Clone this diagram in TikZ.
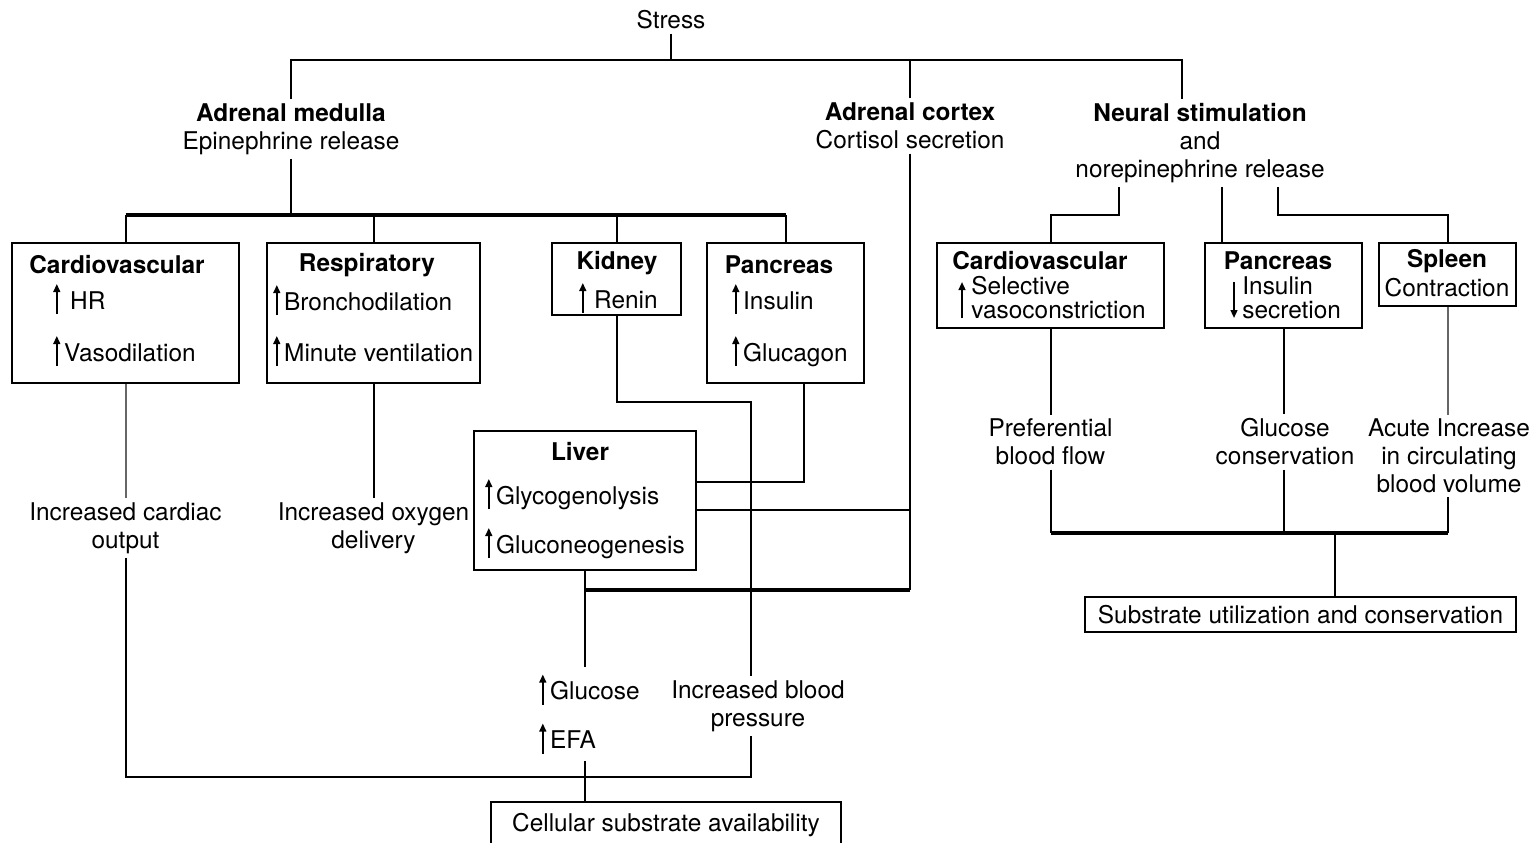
\documentclass[tikz,border=0pt]{standalone}
\usepackage{fontspec}
\setmainfont{TeX Gyre Heros}
\usetikzlibrary{arrows.meta}
\newcommand{\upar}{\tikz[baseline=0pt]\draw[line width=0.9pt,-{Triangle[length=4pt,width=3.4pt]}](0,-2.5pt)--(0,12.5pt);\hspace{2pt}}
\begin{document}
\begin{tikzpicture}[x=0.5pt,y=-0.5pt,
  every node/.style={font=\fontsize{12.2}{14}\selectfont},
  txt/.style={inner sep=2pt, align=center},
  ttl/.style={inner sep=0pt, font=\fontsize{12.2}{14}\selectfont\bfseries},
  item/.style={inner sep=0pt, anchor=west},
  box/.style={draw, line width=1pt, inner sep=0pt},
  conn/.style={line width=1pt},
  lconn/.style={line width=1pt, draw=black!60},
  bus/.style={line width=1.6pt},
  glyph/.style={line width=0.9pt,-{Triangle[length=4pt,width=3.4pt]}}
]
\useasboundingbox (0,0) rectangle (1534,842);

% top
\node[txt] (stress) at (671,20) {Stress};
\node[txt] (am) at (291,129) {\textbf{Adrenal medulla}\\Epinephrine release};
\node[txt] (ac) at (910,126) {\textbf{Adrenal cortex}\\Cortisol secretion};
\node[txt] (ns) at (1200,143) {\textbf{Neural stimulation}\\and\\norepinephrine release};

% boxes left
\node[box, minimum width=113.5pt, minimum height=70pt] (cv) at (125.5,313) {};
\node[box, minimum width=106.5pt, minimum height=70pt] (resp) at (373.5,313) {};
\node[box, minimum width=64.5pt, minimum height=36pt] (kid) at (616.5,279) {};
\node[box, minimum width=78.5pt, minimum height=70pt] (pan) at (785.5,313) {};
\node[box, minimum width=111pt, minimum height=69.5pt] (liver) at (585,500.5) {};
\node[box, minimum width=175pt, minimum height=33pt] (cell) at (666,835) {};

\node[ttl] (cvT) at (117,265) {Cardiovascular};
\node[item] (cvA) at (53,299) {\upar\hspace{3pt}HR};
\node[item] (cvB) at (53,351) {\upar Vasodilation};
\node[ttl] (respT) at (367,265) {Respiratory};
\node[item] (respA) at (273,300) {\upar Bronchodilation};
\node[item] (respB) at (273,351) {\upar Minute ventilation};
\node[ttl] (kidT) at (617,263) {Kidney};
\node[item] (kidA) at (579,298) {\upar\hspace{2pt}Renin};
\node[ttl] (panT) at (779,265) {Pancreas};
\node[item] (panA) at (732,299) {\upar Insulin};
\node[item] (panB) at (732,351) {\upar Glucagon};
\node[ttl] (livT) at (580,452) {Liver};
\node[item] (livA) at (485,494) {\upar Glycogenolysis};
\node[item] (livB) at (485,543) {\upar Gluconeogenesis};
\node[inner sep=0pt] (cellT) at (666,825) {Cellular substrate availability};

% outcomes left
\node[txt] (co) at (125.5,528) {Increased cardiac\\output};
\node[txt] (ox) at (373.5,528) {Increased oxygen\\delivery};
\node[item, inner sep=3pt, align=left, font=\fontsize{12.2}{24.5}\selectfont] (ge) at (533,714) {\upar Glucose\\\upar EFA};
\node[txt] (bp) at (758,706) {Increased blood\\pressure};

% boxes right
\node[box, minimum width=113.5pt, minimum height=42.5pt] (cv2) at (1050.5,285.5) {};
\node[box, minimum width=78.5pt, minimum height=42.5pt] (pan2) at (1283.5,285.5) {};
\node[box, minimum width=68.5pt, minimum height=31.5pt] (spl) at (1447.5,274.5) {};
\node[box, minimum width=215.5pt, minimum height=17.5pt] (sub) at (1300.5,614.5) {Substrate utilization and conservation};

\node[ttl] (cv2T) at (1040,261) {Cardiovascular};
\node[item, align=left, font=\fontsize{12.2}{12}\selectfont] (cv2A) at (971,298) {Selective\\vasoconstriction};
\draw[glyph] (962,318) -- (962,282);
\node[ttl] (pan2T) at (1278,261) {Pancreas};
\node[item, align=left, font=\fontsize{12.2}{12}\selectfont] (pan2A) at (1242,298) {Insulin\\secretion};
\draw[glyph] (1234,282) -- (1234,318);
\node[ttl] (splT) at (1447,261) {Spleen};
\node[inner sep=0pt] (splA) at (1447,288) {Contraction};

\node[txt] (pf) at (1050.5,442) {Preferential\\blood flow};
\node[txt] (gc) at (1285,442) {Glucose\\conservation};
\node[txt] (aci) at (1449,456) {Acute Increase\\in circulating\\blood volume};

% connectors top
\coordinate (sb) at (671,60);
\coordinate (nsd) at (1182,60);
\draw[conn] (stress.south) -- (sb);
\draw[conn] (am.north) -- (am.north |- sb) -- (nsd) -- (nsd |- ns.north);
\draw[conn] (ac.north) -- (ac.north |- sb);

% adrenal medulla branch
\coordinate (ab) at (291,215);
\draw[conn] (am.south) -- (ab);
\draw[bus] (cv.north |- ab) -- (pan.north |- ab);
\foreach \n in {cv,resp,kid,pan} \draw[conn] (\n.north) -- (\n.north |- ab);

% adrenal cortex and liver
\coordinate (cj) at (910,590);
\coordinate (cm) at (910,510);
\coordinate (pl) at (804,482);
\coordinate (kb) at (751,402);
\coordinate (cb) at (585,777);
\draw[conn] (ac.south) -- (cj);
\draw[bus] (cj) -- (cj -| liver.south);
\draw[conn] (cm -| liver.east) -- (cm);
\draw[conn] (pl |- pan.south) -- (pl) -- (pl -| liver.east);
\draw[conn] (kid.south) -- (kid.south |- kb) -- (kb) -- (kb |- bp.north);
\draw[conn] (liver.south) -- (liver.south |- ge.north);
\draw[conn] (liver.south |- ge.south) -- (liver.south |- cell.north);

% outcomes left
\draw[lconn] (cv.south) -- (cv.south |- co.north);
\draw[conn] (resp.south) -- (resp.south |- ox.north);
\draw[conn] (co.south) -- (co.south |- cb) -- (kb |- cb) -- (kb |- bp.south);

% neural stimulation
\coordinate (n1) at (1119,215);
\coordinate (n2) at (1222,215);
\coordinate (n3) at (1278,215);
\draw[conn] (n1 |- ns.south) -- (n1) -| (cv2.north);
\draw[conn] (n2 |- ns.south) -- (n2 |- pan2.north);
\draw[conn] (n3 |- ns.south) -- (n3) -| (spl.north);
\draw[conn] (cv2.south) -- (cv2.south |- pf.north);
\draw[conn] (pan2.south) -- (pan2.south |- gc.north);
\draw[lconn] (spl.south) -- (spl.south |- aci.north);
\coordinate (rb) at (1335,533);
\draw[conn] (cv2.south |- pf.south) -- (cv2.south |- rb);
\draw[conn] (pan2.south |- gc.south) -- (pan2.south |- rb);
\draw[conn] (spl.south |- aci.south) -- (spl.south |- rb);
\draw[bus] (cv2.south |- rb) -- (spl.south |- rb);
\draw[conn] (rb) -- (rb |- sub.north);
\end{tikzpicture}
\end{document}
